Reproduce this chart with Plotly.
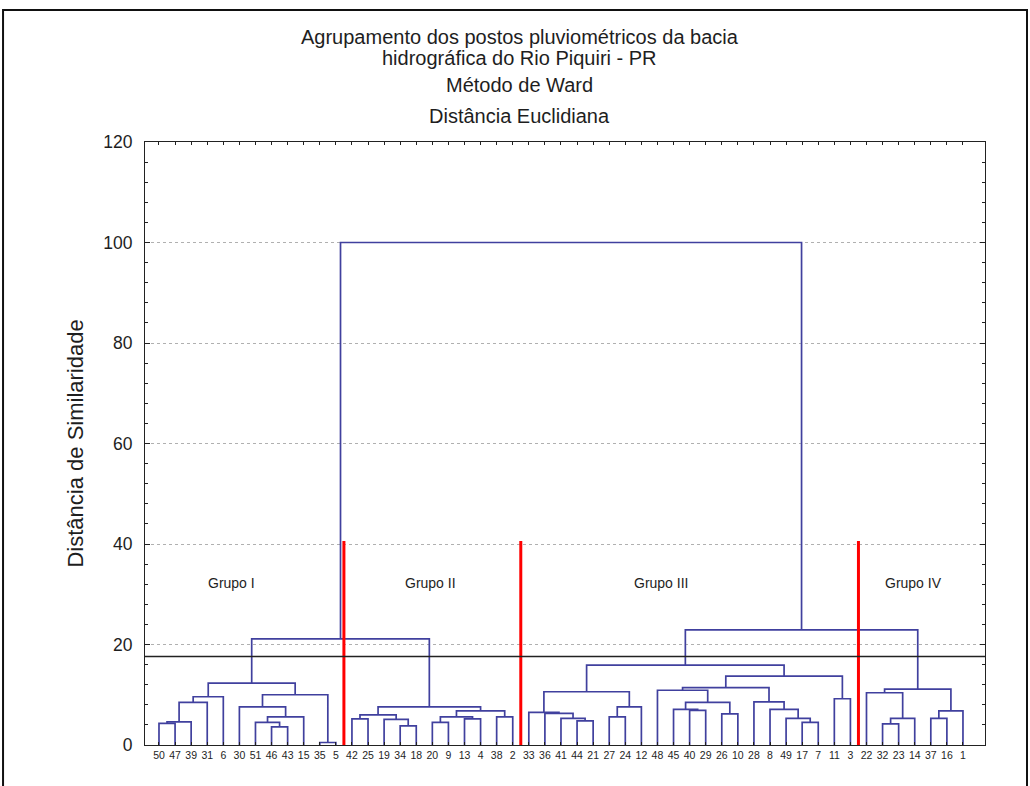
import plotly.graph_objects as go

# Leaf order along the horizontal axis (rain-gauge station numbers)
leaf_labels = [
    "50", "47", "39", "31", "6", "30", "51", "46", "43", "15", "35", "5",
    "42", "25", "19", "34", "18", "20", "9", "13", "4", "38", "2",
    "33", "36", "41", "44", "21", "27", "24", "12", "48", "45", "40", "29", "26",
    "10", "28", "8", "49", "17", "7", "11", "3",
    "22", "32", "23", "14", "37", "16", "1",
]

# Ward linkage: merge k joins merge_left[k] and merge_right[k] at merge_height[k].
# Children are station labels or "#j" for an earlier merge j.
merge_left = [
    "50", "#0", "#1", "#2", "46", "51", "#5", "30", "35", "#7", "#3",
    "42", "34", "19", "#11", "20", "13", "#15", "38", "#17", "#14", "#10",
    "44", "41", "36", "33", "27", "#26", "#25", "40", "45", "26", "#30", "48",
    "17", "49", "8", "28", "#33", "11", "#38", "#28",
    "32", "#42", "22", "37", "#45", "#44", "#41", "#21",
]
merge_right = [
    "47", "39", "31", "6", "43", "#4", "15", "#6", "5", "#8", "#9",
    "25", "18", "#12", "#13", "9", "4", "#16", "2", "#18", "#19", "#20",
    "21", "#22", "#23", "#24", "24", "12", "#27", "29", "#29", "10", "#31", "#32",
    "7", "#34", "#35", "#36", "#37", "3", "#39", "#40",
    "23", "14", "#43", "16", "1", "#46", "#47", "#48",
]
merge_height = [
    4.3, 4.6, 8.5, 9.6, 3.6, 4.5, 5.6, 7.6, 0.5, 10.0, 12.3,
    5.2, 3.8, 5.1, 6.0, 4.5, 5.2, 5.6, 5.6, 6.8, 7.6, 21.1,
    4.8, 5.3, 6.3, 6.5, 5.6, 7.6, 10.6, 6.9, 7.1, 6.2, 8.5, 10.9,
    4.5, 5.3, 7.1, 8.6, 11.4, 9.2, 13.7, 15.9,
    4.2, 5.3, 10.4, 5.3, 6.8, 11.1, 22.9, 100.0,
]

group_names = ["Grupo I", "Grupo II", "Grupo III", "Grupo IV"]
group_label_x = [4.5, 16.9, 31.2, 46.9]
group_label_y = 32.2
group_bounds = [11.5, 22.5, 43.5]
group_bound_top = 40.6
cut_height = 17.6

# --- dendrogram geometry -------------------------------------------------
node_x = {lab: float(i) for i, lab in enumerate(leaf_labels)}
node_h = {lab: 0.0 for lab in leaf_labels}

seg_x, seg_y = [], []
for k, (a, b, h) in enumerate(zip(merge_left, merge_right, merge_height)):
    xa, xb = node_x[a], node_x[b]
    seg_x += [xa, xa, xb, xb, None]
    seg_y += [node_h[a], h, h, node_h[b], None]
    node_x["#%d" % k] = (xa + xb) / 2
    node_h["#%d" % k] = h

sep_x, sep_y = [], []
for gx in group_bounds:
    sep_x += [gx, gx, None]
    sep_y += [0, group_bound_top, None]

FONT = "Liberation Sans, Arial, sans-serif"
TXT = "#1e1e1e"

fig = go.Figure()
fig.add_trace(go.Scatter(
    x=seg_x, y=seg_y, mode="lines",
    line=dict(color="#40409e", width=1.7),
    hoverinfo="skip", showlegend=False,
))
fig.add_trace(go.Scatter(
    x=sep_x, y=sep_y, mode="lines",
    line=dict(color="#ff0000", width=3),
    hoverinfo="skip", showlegend=False,
))

# horizontal cut line
fig.add_shape(type="line", xref="paper", yref="y", x0=0, x1=1,
              y0=cut_height, y1=cut_height,
              line=dict(color="#222222", width=1.5))

# outer frame around the whole figure
fig.add_shape(type="rect", xref="paper", yref="paper",
              x0=-0.169, x1=1.05, y0=-0.2, y1=1.219,
              line=dict(color="#111111", width=2), layer="below")

for name, gx in zip(group_names, group_label_x):
    fig.add_annotation(x=gx, y=group_label_y, xref="x", yref="y",
                       text=name, showarrow=False,
                       font=dict(family=FONT, size=14, color=TXT))

title_lines = [
    ("Agrupamento dos postos pluviométricos da bacia", 1.174),
    ("hidrográfica do Rio Piquiri - PR", 1.139),
    ("Método de Ward", 1.0945),
    ("Distância Euclidiana", 1.043),
]
for txt, ty in title_lines:
    fig.add_annotation(x=0.4464, y=ty, xref="paper", yref="paper",
                       text=txt, showarrow=False, xanchor="center", yanchor="middle",
                       font=dict(family=FONT, size=20, color=TXT))

fig.add_annotation(x=-0.0833, y=0.5, xref="paper", yref="paper",
                   text="Distância de Similaridade", showarrow=False,
                   textangle=-90, xanchor="center", yanchor="middle",
                   font=dict(family=FONT, size=22, color=TXT))

fig.update_layout(
    width=1030, height=786,
    margin=dict(l=145, r=45, t=142, b=41),
    paper_bgcolor="white", plot_bgcolor="white",
    xaxis=dict(
        range=[-0.87, 51.37],
        tickmode="array", tickvals=list(range(len(leaf_labels))), ticktext=leaf_labels,
        tickangle=0, tickfont=dict(family=FONT, size=10.5, color=TXT),
        ticks="inside", ticklen=3, tickcolor="#222222",
        showline=True, linecolor="#222222", linewidth=1.2, mirror="ticks",
        showgrid=False, zeroline=False,
    ),
    yaxis=dict(
        range=[0, 120], tick0=0, dtick=20,
        tickfont=dict(family=FONT, size=17.5, color=TXT),
        ticks="inside", ticklen=5, tickcolor="#222222",
        minor=dict(dtick=4, ticks="inside", ticklen=3, tickcolor="#222222", showgrid=False),
        showline=True, linecolor="#222222", linewidth=1.2, mirror="ticks",
        showgrid=True, gridcolor="#b0b0b0", griddash="dot", gridwidth=1,
        zeroline=False, ticklabelstandoff=8,
    ),
)

fig.write_html("out.html")
